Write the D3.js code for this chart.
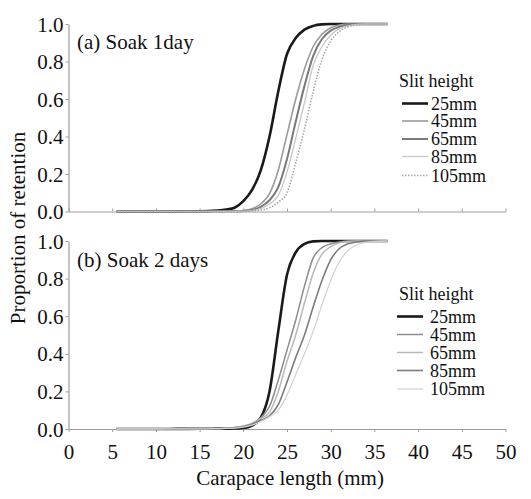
<!DOCTYPE html>
<html>
<head>
<meta charset="utf-8">
<script src="https://cdn.jsdelivr.net/npm/d3@7/dist/d3.min.js"></script>
<style>
  html, body { margin: 0; padding: 0; background: #fff; }
  svg text { font-family: "Liberation Serif", "Times New Roman", serif; fill: #111; }
</style>
</head>
<body>
<svg id="chart" width="531" height="499"></svg>
<script>
// ---- data ----
const lengths = [5.5,10,15,16,17,18,19,20,21,22,23,24,25,26,27,28,29,30,31,32,33,34,35,36.5];
const seriesNames = ["25mm","45mm","65mm","85mm","105mm"];
const xTicks = [0,5,10,15,20,25,30,35,40,45,50];
const yTicks = [0,0.2,0.4,0.6,0.8,1.0];

// (a) Soak 1 day
const soak1_25  = [0,0,0.001,0.002,0.005,0.01,0.02,0.055,0.115,0.22,0.40,0.64,0.84,0.925,0.97,0.99,0.998,1,1,1,1,1,1,1];
const soak1_45  = [0,0,0,0,0.001,0.001,0.002,0.005,0.015,0.04,0.095,0.22,0.41,0.60,0.76,0.88,0.945,0.98,0.995,1,1,1,1,1];
const soak1_65  = [0,0,0,0,0,0.001,0.001,0.003,0.008,0.025,0.06,0.13,0.28,0.48,0.67,0.83,0.92,0.965,0.985,0.996,1,1,1,1];
const soak1_85  = [0,0,0,0,0,0,0.001,0.002,0.005,0.015,0.04,0.085,0.21,0.39,0.58,0.78,0.88,0.94,0.975,0.99,0.998,1,1,1];
const soak1_105 = [0,0,0,0,0,0,0,0.001,0.003,0.008,0.02,0.05,0.10,0.26,0.44,0.64,0.81,0.91,0.96,0.985,0.995,1,1,1];

// (b) Soak 2 days
const soak2_25  = [0,0,0.001,0.001,0.002,0.002,0.003,0.005,0.018,0.06,0.20,0.52,0.82,0.94,0.985,0.998,1,1,1,1,1,1,1,1];
const soak2_45  = [0,0.001,0.002,0.002,0.003,0.004,0.008,0.015,0.03,0.06,0.12,0.26,0.42,0.58,0.76,0.91,0.965,0.985,0.995,1,1,1,1,1];
const soak2_65  = [0,0.001,0.002,0.002,0.003,0.004,0.008,0.015,0.03,0.055,0.09,0.20,0.36,0.50,0.67,0.83,0.93,0.97,0.99,0.998,1,1,1,1];
const soak2_85  = [0,0,0.001,0.001,0.002,0.003,0.006,0.012,0.025,0.045,0.07,0.13,0.25,0.38,0.50,0.65,0.79,0.90,0.96,0.985,0.995,1,1,1];
const soak2_105 = [0,0,0.001,0.001,0.002,0.003,0.005,0.01,0.02,0.04,0.065,0.10,0.18,0.29,0.40,0.52,0.66,0.79,0.89,0.95,0.98,0.993,0.998,1];

const panels = [
  { label: "(a) Soak 1day", series: [soak1_25, soak1_45, soak1_65, soak1_85, soak1_105],
    y0: 211.5, y1: 24, labelY: 49, showXLabels: false,
    legend: { titleX: 399, titleY: 86.5, lineX0: 402, lineX1: 428, textX: 431, rowY: [109.5,127,145,162.5,181.5] },
    styles: [
      { stroke: "#1a1a1a", width: 2.6, dash: null },
      { stroke: "#9a9a9a", width: 1.6, dash: null },
      { stroke: "#7a7a7a", width: 2.0, dash: null },
      { stroke: "#c8c8c8", width: 1.3, dash: null },
      { stroke: "#a8a8a8", width: 1.6, dash: "1.5,1.5" }
    ] },
  { label: "(b) Soak 2 days", series: [soak2_25, soak2_45, soak2_65, soak2_85, soak2_105],
    y0: 429, y1: 241, labelY: 266.5, showXLabels: true,
    legend: { titleX: 399, titleY: 300, lineX0: 397, lineX1: 423, textX: 430, rowY: [322.5,340.5,358.5,376.5,395] },
    styles: [
      { stroke: "#1a1a1a", width: 2.6, dash: null },
      { stroke: "#8c8c8c", width: 1.5, dash: null },
      { stroke: "#b8b8b8", width: 1.5, dash: null },
      { stroke: "#7c7c7c", width: 1.6, dash: null },
      { stroke: "#d4d4d4", width: 1.3, dash: null }
    ] }
];

const svg = d3.select("#chart");
svg.append("rect").attr("width", 531).attr("height", 499).attr("fill", "#fff");

const x = d3.scaleLinear().domain([0, 50]).range([68.5, 505.5]);
const axisColor = "#9d9d9d";

panels.forEach(p => {
  const y = d3.scaleLinear().domain([0, 1]).range([p.y0, p.y1]);
  const g = svg.append("g");

  // x axis
  const xAxis = d3.axisBottom(x).tickValues(xTicks).tickSize(p.showXLabels ? 3 : -3).tickSizeOuter(0)
    .tickFormat(p.showXLabels ? d3.format("d") : "");
  const gx = g.append("g").attr("transform", `translate(0,${p.y0})`).call(xAxis);
  gx.select(".domain").attr("stroke", axisColor).attr("stroke-width", 1.2);
  gx.selectAll(".tick line").attr("stroke", axisColor);
  gx.selectAll(".tick text").attr("font-size", 21).attr("font-family", "Liberation Serif")
    .attr("fill", "#111").attr("dy", "1.15em");

  // y axis
  const yAxis = d3.axisLeft(y).tickValues(yTicks).tickSize(3).tickSizeOuter(0).tickFormat(d3.format(".1f"));
  const gy = g.append("g").attr("transform", `translate(${x(0)},0)`).call(yAxis);
  gy.select(".domain").attr("stroke", axisColor).attr("stroke-width", 1.2);
  gy.selectAll(".tick line").attr("stroke", axisColor);
  gy.selectAll(".tick text").attr("font-size", 21).attr("font-family", "Liberation Serif")
    .attr("fill", "#111").attr("x", -5).attr("dy", "0.34em");

  // curves
  const line = d3.line().x(d => x(d[0])).y(d => y(d[1])).curve(d3.curveMonotoneX);
  p.series.forEach((vals, i) => {
    const st = p.styles[i];
    g.append("path")
      .datum(lengths.map((L, k) => [L, vals[k]]))
      .attr("d", line)
      .attr("fill", "none")
      .attr("stroke", st.stroke)
      .attr("stroke-width", st.width)
      .attr("stroke-dasharray", st.dash)
      .attr("stroke-linejoin", "round");
  });

  // panel label
  g.append("text").attr("x", 77).attr("y", p.labelY).attr("font-size", 21).text(p.label);

  // legend
  const lg = p.legend;
  g.append("text").attr("x", lg.titleX).attr("y", lg.titleY).attr("font-size", 18).text("Slit height");
  seriesNames.forEach((name, i) => {
    const st = p.styles[i];
    const yy = lg.rowY[i];
    g.append("line").attr("x1", lg.lineX0).attr("x2", lg.lineX1)
      .attr("y1", yy - 6).attr("y2", yy - 6)
      .attr("stroke", st.stroke).attr("stroke-width", st.width)
      .attr("stroke-dasharray", st.dash);
    g.append("text").attr("x", lg.textX).attr("y", yy).attr("font-size", 18).text(name);
  });
});

// axis titles
svg.append("text").attr("x", 290).attr("y", 485).attr("text-anchor", "middle")
  .attr("font-size", 21).text("Carapace length (mm)");
svg.append("text").attr("transform", "translate(25,228) rotate(-90)").attr("text-anchor", "middle")
  .attr("font-size", 21).text("Proportion of retention");
</script>
</body>
</html>
